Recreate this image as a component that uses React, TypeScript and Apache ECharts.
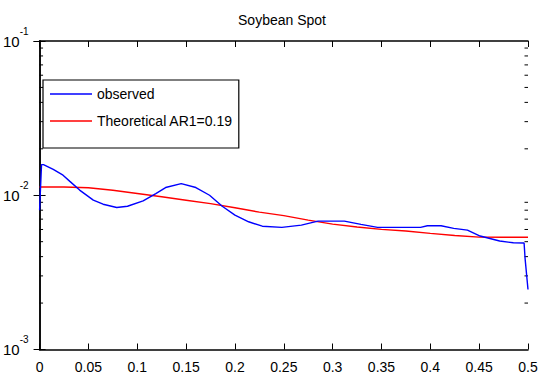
import React, { useEffect, useRef } from "react";
import * as echarts from "echarts";

const chartTitle = "Soybean Spot";
const seriesNames = ["observed", "Theoretical AR1=0.19"];

const observedFreq = [
  0, 0.002, 0.004, 0.014, 0.024, 0.031, 0.041, 0.055, 0.065, 0.079, 0.09,
  0.106, 0.119, 0.129, 0.145, 0.16, 0.174, 0.187, 0.2, 0.214, 0.228, 0.248,
  0.268, 0.285, 0.312, 0.329, 0.346, 0.39, 0.397, 0.411, 0.424, 0.438, 0.451,
  0.471, 0.485, 0.496, 0.497, 0.5,
];
const observedValues = [
  0.008, 0.0158, 0.0158, 0.0147, 0.0135, 0.0123, 0.0108, 0.0093, 0.00875,
  0.00833, 0.00849, 0.00919, 0.01026, 0.01122, 0.0119, 0.01122, 0.01,
  0.00849, 0.00743, 0.00673, 0.0063, 0.00619, 0.0064, 0.0068, 0.0068,
  0.00647, 0.00619, 0.00619, 0.00634, 0.00634, 0.0061, 0.00594, 0.00544,
  0.00505, 0.00492, 0.0049, 0.0039, 0.00245,
];

const theoreticalFreq = [
  0, 0.025, 0.05, 0.075, 0.1, 0.125, 0.15, 0.175, 0.2, 0.225, 0.25, 0.275,
  0.3, 0.325, 0.35, 0.375, 0.4, 0.425, 0.45, 0.475, 0.5,
];
const theoreticalValues = [
  0.01131, 0.0113, 0.01118, 0.01077, 0.01026, 0.00978, 0.00929, 0.00882,
  0.0083, 0.00777, 0.00738, 0.0069, 0.0065, 0.00622, 0.00601, 0.00586,
  0.00566, 0.00548, 0.00535, 0.00534, 0.00534,
];

const minorTickValues = [
  0.002, 0.003, 0.004, 0.005, 0.006, 0.007, 0.008, 0.009,
  0.02, 0.03, 0.04, 0.05, 0.06, 0.07, 0.08, 0.09,
];

const FONT = "'Liberation Sans', Arial, sans-serif";

export default function App() {
  const ref = useRef<HTMLDivElement>(null);
  useEffect(() => {
    document.body.style.margin = "0";
    const chart = echarts.init(ref.current!, null, { renderer: "svg" });
    const axisLine = { show: true, lineStyle: { color: "#000", width: 1.5 } };
    chart.setOption({
      animation: false,
      backgroundColor: "#fff",
      title: {
        text: chartTitle,
        left: 282,
        textAlign: "center",
        top: 13,
        padding: 0,
        textStyle: { fontFamily: FONT, fontSize: 14, fontWeight: "normal", color: "#000" },
      },
      grid: { left: 36, right: 14, top: 41, bottom: 24.5, containLabel: false },
      legend: {
        data: seriesNames.map((n) => ({ name: n, icon: "rect" })),
        orient: "vertical",
        left: 43,
        top: 80,
        itemWidth: 42,
        itemHeight: 1.4,
        itemGap: 7,
        padding: [4, 6, 17, 7],
        borderColor: "#000",
        borderWidth: 1.2,
        backgroundColor: "#fff",
        textStyle: { fontFamily: FONT, fontSize: 14, color: "#000", lineHeight: 20 },
      },
      xAxis: [
        {
          type: "value",
          min: 0,
          max: 0.5,
          interval: 0.05,
          position: "bottom",
          axisLine,
          axisTick: { show: true, inside: true, length: 6, lineStyle: { color: "#000" } },
          axisLabel: { fontFamily: FONT, fontSize: 14, color: "#000", margin: 10 },
          splitLine: { show: false },
        },
        {
          type: "value",
          min: 0,
          max: 0.5,
          interval: 0.05,
          position: "top",
          axisLine,
          axisTick: { show: true, inside: true, length: 6, lineStyle: { color: "#000" } },
          axisLabel: { show: false },
          splitLine: { show: false },
        },
      ],
      yAxis: [
        {
          type: "log",
          logBase: 10,
          min: 0.001,
          max: 0.1,
          position: "left",
          axisLine,
          axisTick: { show: true, inside: true, length: 6, lineStyle: { color: "#000" } },
          axisLabel: {
            margin: 11,
            formatter: (v: number) => `{b|10}{s|${Math.round(Math.log10(v))}}`,
            rich: {
              b: { fontFamily: FONT, fontSize: 15, color: "#000", lineHeight: 30, verticalAlign: "middle" },
              s: { fontFamily: FONT, fontSize: 10, color: "#000", lineHeight: 12, verticalAlign: "top" },
            },
          },
          splitLine: { show: false },
        },
        {
          type: "log",
          logBase: 10,
          min: 0.001,
          max: 0.1,
          position: "right",
          axisLine,
          axisTick: { show: true, inside: true, length: 6, lineStyle: { color: "#000" } },
          axisLabel: { show: false },
          splitLine: { show: false },
        },
      ],
      series: [
        {
          name: seriesNames[0],
          type: "line",
          data: observedFreq.map((f, i) => [f, observedValues[i]]),
          symbol: "none",
          lineStyle: { color: "#0000ff", width: 1.4 },
          itemStyle: { color: "#0000ff" },
          z: 3,
        },
        {
          name: seriesNames[1],
          type: "line",
          data: theoreticalFreq.map((f, i) => [f, theoreticalValues[i]]),
          symbol: "none",
          lineStyle: { color: "#ff0000", width: 1.4 },
          itemStyle: { color: "#ff0000" },
          z: 2,
        },
        {
          type: "custom",
          silent: true,
          data: minorTickValues.map((v) => [0, v]),
          renderItem: (params: any, api: any) => {
            const v = api.value(1);
            const pl = api.coord([0, v]);
            const pr = api.coord([0.5, v]);
            return {
              type: "group",
              children: [
                { type: "line", shape: { x1: pl[0], y1: pl[1], x2: pl[0] + 3.5, y2: pl[1] }, style: { stroke: "#000", lineWidth: 1 } },
                { type: "line", shape: { x1: pr[0] - 3.5, y1: pr[1], x2: pr[0], y2: pr[1] }, style: { stroke: "#000", lineWidth: 1 } },
              ],
            };
          },
          z: 1,
        },
      ],
    });
    return () => chart.dispose();
  }, []);
  return <div ref={ref} style={{ width: 542, height: 374 }} />;
}
